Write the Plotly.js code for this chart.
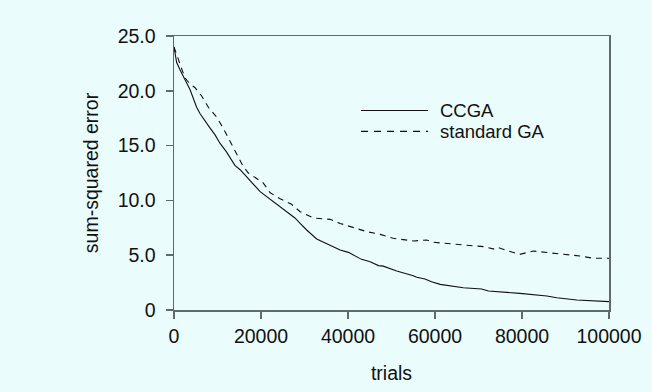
<!DOCTYPE html>
<html>
<head>
<meta charset="utf-8">
<script src="https://cdn.plot.ly/plotly-3.0.1.min.js"></script>
<style>html,body{margin:0;padding:0;background:#eafcfc;}#chart{width:652px;height:392px;}</style>
</head>
<body>
<div id="chart"></div>
<script>
// CCGA (solid)
const ccgaTrials = [0,600,1400,2500,3700,5200,6000,8300,9400,10600,12100,14000,15200,19800,22800,25700,27800,29000,30500,32800,35100,38200,40100,43100,45100,47000,48100,51200,55000,55800,57700,59200,61200,66500,70700,72300,79500,85700,88000,92600,100000];
const ccgaError  = [24.0,22.6,21.9,21.1,20.1,18.5,17.9,16.6,16.0,15.2,14.4,13.2,12.8,10.8,9.9,9.05,8.4,7.9,7.3,6.48,6.08,5.47,5.26,4.62,4.4,4.05,4.0,3.56,3.13,2.98,2.83,2.58,2.34,2.03,1.92,1.73,1.52,1.28,1.12,0.91,0.76];
// standard GA (dashed)
const gaTrials = [0,1000,2000,2700,3700,4800,6400,7900,9800,11300,13300,15900,17100,20500,22100,24400,27000,29000,32000,35900,38200,41200,44300,47400,50400,55000,58100,59600,62700,67300,71100,73800,74600,76900,79500,82600,86000,89500,93300,96400,100000];
const gaError  = [24.0,22.8,21.75,21.1,20.6,20.3,19.5,18.5,17.6,16.6,15.1,13.1,12.5,11.6,10.7,10.15,9.65,8.97,8.4,8.27,7.9,7.54,7.15,6.9,6.54,6.3,6.39,6.18,6.08,5.87,5.78,5.54,5.69,5.38,5.08,5.38,5.26,5.08,4.93,4.72,4.72];
// axis ticks
const yTickVals = [0,5,10,15,20,25];
const yTickText = ["0","5.0","10.0","15.0","20.0","25.0"];
const xTickVals = [0,20000,40000,60000,80000,100000];
const seriesNames = ["CCGA","standard GA"];

const bg = '#eafcfc';
const axisColor = '#5f6a6a';
const font = {family:'Liberation Sans, Arial, sans-serif', size:19.5, color:'#111'};
const legFont = {family:'Liberation Sans, Arial, sans-serif', size:18.5, color:'#111'};

const traces = [
  {x: ccgaTrials, y: ccgaError, name: seriesNames[0], mode:'lines', line:{color:'#111', width:1.1}, showlegend:false, hoverinfo:'skip'},
  {x: gaTrials, y: gaError, name: seriesNames[1], mode:'lines', line:{color:'#111', width:1.1, dash:'6px,5px'}, showlegend:false, hoverinfo:'skip'}
];

const legY1 = 0.728, legY2 = 0.652;
const layout = {
  width:652, height:392,
  paper_bgcolor:bg, plot_bgcolor:bg,
  font: font,
  margin:{l:174, r:43, t:36, b:82, pad:0},
  showlegend:false,
  xaxis:{
    range:[0,100000], tickvals:xTickVals, ticktext:xTickVals.map(String),
    showline:true, linecolor:axisColor, linewidth:1.5, mirror:true,
    ticks:'outside', ticklen:7, tickcolor:axisColor, tickwidth:1.5,
    showgrid:false, zeroline:false, ticklabelstandoff:1,
    title:{text:'trials', font:font, standoff:20}
  },
  yaxis:{
    range:[0,25], tickvals:yTickVals, ticktext:yTickText,
    showline:true, linecolor:axisColor, linewidth:1.5, mirror:true,
    ticks:'outside', ticklen:7, tickcolor:axisColor, tickwidth:1.5,
    showgrid:false, zeroline:false, ticklabelstandoff:6,
    title:{text:'sum-squared error', font:font, standoff:14}
  },
  shapes:[
    {type:'line', xref:'paper', yref:'paper', x0:0.430, x1:0.584, y0:legY1, y1:legY1, line:{color:'#111', width:1.1}},
    {type:'line', xref:'paper', yref:'paper', x0:0.430, x1:0.584, y0:legY2, y1:legY2, line:{color:'#111', width:1.1, dash:'7px,6px'}}
  ],
  annotations:[
    {xref:'paper', yref:'paper', x:0.607, y:legY1, xanchor:'left', yanchor:'middle', text:seriesNames[0], showarrow:false, font:legFont},
    {xref:'paper', yref:'paper', x:0.607, y:legY2, xanchor:'left', yanchor:'middle', text:seriesNames[1], showarrow:false, font:legFont}
  ]
};

Plotly.newPlot('chart', traces, layout, {staticPlot:true, displayModeBar:false});
</script>
</body>
</html>
